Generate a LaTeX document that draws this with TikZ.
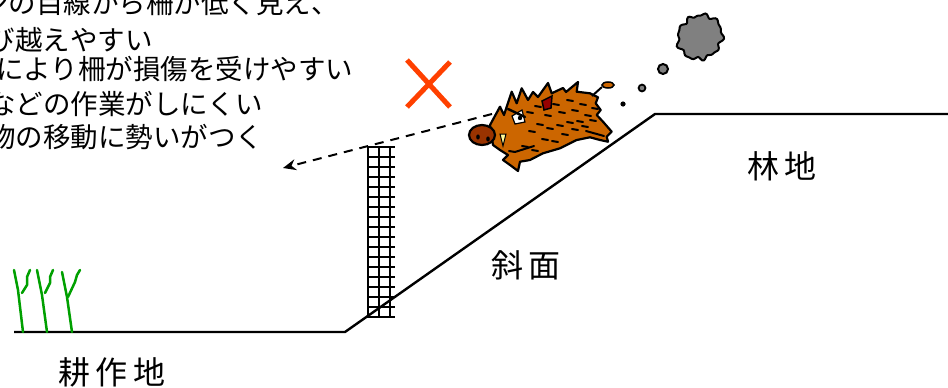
\documentclass[tikz,border=0pt]{standalone}
\usepackage{fontspec}
\newfontfamily\jpfont{Noto Sans CJK JP}
\usetikzlibrary{arrows.meta}

\definecolor{boarfur}{RGB}{204,102,0}
\definecolor{boarsnout}{RGB}{153,51,0}
\definecolor{boarear}{RGB}{150,0,0}
\definecolor{crossred}{RGB}{255,64,0}
\definecolor{grassgreen}{RGB}{0,160,0}
\definecolor{smokegray}{RGB}{128,128,128}

\tikzset{
  ground/.style={line width=2.4pt, line join=round},
  fencewire/.style={line width=1.8pt},
  note/.style={font=\jpfont\fontsize{27.5}{27.5}\selectfont, anchor=west,
    inner sep=0pt, text height=24.2pt, text depth=3.3pt},
  area/.style={font=\jpfont\fontsize{32}{32}\selectfont, inner sep=0pt,
    text height=28.2pt, text depth=3.8pt},
  blade/.style={grassgreen, line width=2.5pt, line cap=round, line join=round},
  fur/.style={line width=2pt, line cap=round},
}

\begin{document}
\begin{tikzpicture}[x=1pt, y=-1pt]
  \useasboundingbox (0,0) rectangle (948,388);
  \clip (0,0) rectangle (948,388);

  % fence
  \foreach \y in {147,157,...,317}
    \draw[fencewire] (368,\y) -- (395,\y);
  \draw[fencewire] (379,147) -- (379,317);
  \draw[fencewire] (390,147) -- (390,317);
  \draw[line width=2.8pt] (368,146) -- (368,318);

  % field, slope, forest
  \draw[ground] (14,332) -- (345,332) -- (655,114) -- (948,114);

  % crops
  \draw[blade] (23,332) -- (18,290) -- (14,270);
  \draw[blade] (22,293) -- (27,285) -- (27,277) -- (30,270);
  \draw[blade] (47,332) -- (42,295) -- (37,270);
  \draw[blade] (45,293) -- (50,283) -- (50,277) -- (53,270);
  \draw[blade] (72,332) -- (67,297) -- (62,272);
  \draw[blade] (68,297) -- (75,282) -- (77,275) -- (80,270);

  % jump path
  \coordinate (snout) at (492,114);
  \coordinate (landing) at (283,168);
  \draw[line width=2pt, dash pattern=on 9pt off 7pt, -{Stealth[length=13pt, width=11pt]}]
    (snout) -- (landing);

  % boar
  \draw[line width=2.2pt, fill=boarfur, line join=round]
    (490,125) -- (500,106.7) -- (504,115) -- (511.7,91.7) -- (516.7,103.3)
    -- (521.7,88.3) -- (528,100) -- (533,92) -- (538,97) -- (548,83)
    -- (551.7,93.3) -- (563,88) -- (566,92) -- (578,82) -- (576.7,91.7)
    -- (590,93.3) -- (598,97.3) -- (595.7,103.3) -- (600.7,110)
    -- (596.7,115) -- (603,121.7) -- (611.7,131.7) -- (606.7,136.7)
    -- (608,141.7) -- (600,140) -- (590,137.3) -- (576.7,140) -- (560,148.3)
    -- (543,153.3) -- (530,160) -- (520,161.7) -- (518,171) -- (510,165)
    -- (503,160) -- (508,155) -- (500,150) -- (493,145) -- cycle;
  \foreach \fx/\fy in {530/112,538/106,548/115,556/104,562/112,570/100,
      575/110,583/104,588/115,580/121,570/122,560/125,550/128,540/124,
      532/131,545/139,555/141,565/134,575/129,585/126,593/120,525/146,
      535/150,512/151,595/108}
    \draw[fur] (\fx-3,\fy) -- (\fx+3,\fy+1);
  \draw[fur] (515,152) -- (534,146);
  \draw[fur] (586,131) -- (604,136);
  % eye, brow, ear, tusk
  \draw[line width=1.2pt, fill=white] (512,116) -- (522,110) -- (525,122) -- (515,124) -- cycle;
  \fill (520,118) circle[radius=2.2];
  \draw[line width=2.4pt, line cap=round] (508,109) -- (525,117);
  \draw[line width=1.5pt, fill=boarear] (542,101) -- (552,96) -- (551,108) -- (544,110) -- cycle;
  \draw[line width=1pt, fill=yellow!40] (500,134) -- (503,146) -- (506,134) -- cycle;
  \draw[line width=2.2pt, fill=boarsnout] (482,135) ellipse[x radius=13, y radius=10];
  \fill (478,137) ellipse[x radius=1.8, y radius=2.6];
  \fill (488,139) ellipse[x radius=1.8, y radius=2.6];
  % tail
  \draw[line width=2pt] (592,96) -- (602,87);
  \draw[line width=1.5pt, fill=boarfur] (608,85) ellipse[x radius=6, y radius=3];

  % dust trail and cloud
  \fill (623,104) circle[radius=2.6];
  \draw[line width=1.8pt, fill=smokegray] (642,88) circle[radius=3.4];
  \draw[line width=2pt, fill=smokegray] (663,69) circle[radius=5];
  \draw[line width=2pt, fill=smokegray]
    plot[smooth cycle, domain=0:356, samples=90, variable=\t]
      ({700+(21+1.3*cos(9*\t)+1*sin(14*\t+30)+1.5*cos(2*\t+40))*cos(\t)},
       {37+(23+1.3*cos(9*\t)+1*sin(14*\t+30)+1.5*cos(2*\t+40))*sin(\t)});

  % no good
  \draw[crossred, line width=5pt] (407,60) -- (450,107) (450,62) -- (407,107);

  % notes
  \node[note] (risk1) at (-19,3) {シの目線から柵が低く見え、};
  \node[note, anchor=east] (risk2) at (153,40) {び越えやすい};
  \node[note] (risk3) at (-4,69) {により柵が損傷を受けやすい};
  \node[note] (risk4) at (-12,104) {などの作業がしにくい};
  \node[note] (risk5) at (-12,137) {物の移動に勢いがつく};

  % areas
  \node[area] (field) at (112,372) {耕\hspace{5.5pt}作\hspace{5.5pt}地};
  \node[area] (slope) at (526,265) {斜\hspace{4.5pt}面};
  \node[area] (forest) at (782,166) {林\hspace{6pt}地};
\end{tikzpicture}
\end{document}
